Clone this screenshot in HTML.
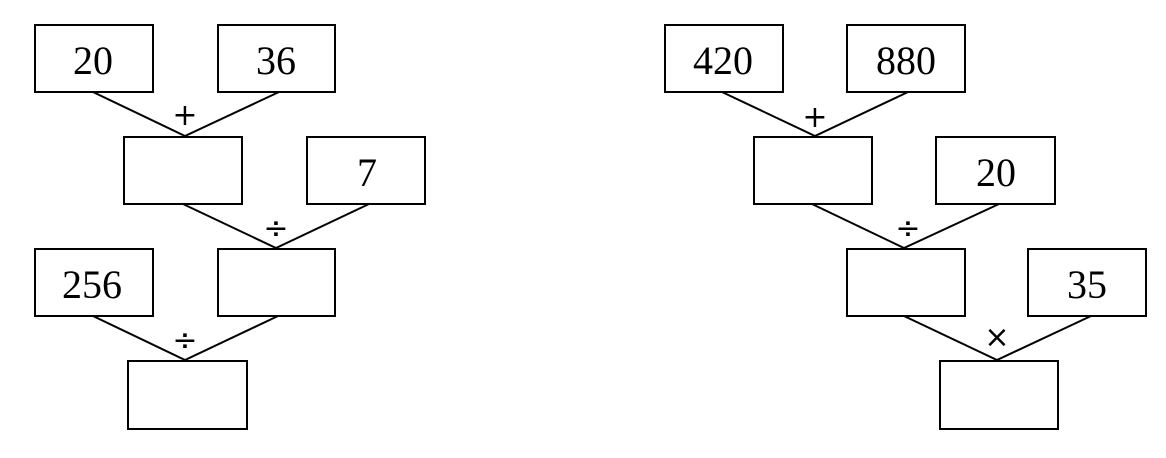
<!DOCTYPE html>
<html><head><style>html,body{margin:0;padding:0;background:#fff;}svg{display:block}</style></head>
<body>
<svg width="1166" height="458" viewBox="0 0 1166 458" xmlns="http://www.w3.org/2000/svg">
<g fill="#fff" stroke="#000" stroke-width="2">
<rect x="35" y="25" width="118" height="67"/>
<rect x="218" y="25" width="117" height="67"/>
<rect x="124" y="137" width="118" height="67"/>
<rect x="307" y="137" width="118" height="67"/>
<rect x="35" y="249" width="118" height="67"/>
<rect x="218" y="249" width="117" height="67"/>
<rect x="128" y="361" width="119" height="68"/>
<rect x="665" y="25" width="118" height="67"/>
<rect x="847" y="25" width="118" height="67"/>
<rect x="754" y="137" width="118" height="67"/>
<rect x="936" y="137" width="119" height="67"/>
<rect x="847" y="249" width="118" height="67"/>
<rect x="1028" y="249" width="118" height="67"/>
<rect x="940" y="361" width="118" height="68"/>
</g>
<g stroke="#000" stroke-width="2" fill="none">
<polyline points="93,92 185,136 279,92"/>
<polyline points="183,204 276,248 369,204"/>
<polyline points="93,316 185,360 278,316"/>
<polyline points="722,92 815,136 908,92"/>
<polyline points="812,204 904,248 999,204"/>
<polyline points="904,316 997,360 1091,316"/>
</g>
<g font-family="Liberation Serif, serif" font-size="40" text-anchor="middle" fill="#000">
<text x="93" y="74">20</text>
<text x="276" y="74">36</text>
<text x="367" y="186">7</text>
<text x="92" y="298">256</text>
<text x="723" y="74">420</text>
<text x="906" y="74">880</text>
<text x="996" y="186">20</text>
<text x="1087" y="298">35</text>
</g>
<g font-family="DejaVu Sans, sans-serif" font-size="30" text-anchor="middle" fill="#000">
<text x="185" y="125">+</text>
<text x="276" y="238">÷</text>
<text x="185" y="350">÷</text>
<text x="815" y="127">+</text>
<text x="908" y="238">÷</text>
<text x="997" y="347">×</text>
</g>
</svg>
</body></html>
